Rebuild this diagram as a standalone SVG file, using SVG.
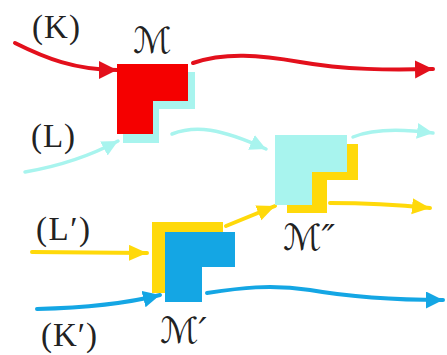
<svg xmlns="http://www.w3.org/2000/svg" width="447" height="355" viewBox="0 0 447 355">
<style>
.lbl{font-family:"Liberation Serif","Times New Roman",serif;font-size:33px;fill:#222}
.cal{font-family:"DejaVu Serif","DejaVu Sans",serif;font-style:italic;font-size:36px;fill:#222}
.c{fill:none;stroke-linecap:round}
.red{stroke:#e3101c;stroke-width:4}
.cy{stroke:#a8f4ee;stroke-width:3.5}
.ye{stroke:#ffd90a;stroke-width:4}
.bl{stroke:#14a6e4;stroke-width:4}
</style>
<defs>
<marker id="aR" markerUnits="userSpaceOnUse" markerWidth="20" markerHeight="20" refX="18" refY="9" orient="auto"><path d="M0,0 L18,9 L0,18 z" fill="#e3101c"/></marker>
<marker id="aC" markerUnits="userSpaceOnUse" markerWidth="20" markerHeight="20" refX="16" refY="8" orient="auto"><path d="M0,0 L16,8 L0,16 z" fill="#a8f4ee"/></marker>
<marker id="aY" markerUnits="userSpaceOnUse" markerWidth="20" markerHeight="20" refX="18" refY="8" orient="auto"><path d="M0,0 L18,8 L0,16 z" fill="#ffd90a"/></marker>
<marker id="aB" markerUnits="userSpaceOnUse" markerWidth="20" markerHeight="20" refX="17" refY="8.5" orient="auto"><path d="M0,0 L17,8.5 L0,17 z" fill="#14a6e4"/></marker>
</defs>
<rect width="447" height="355" fill="#fff"/>
<g id="connectors">
<path class="c cy" d="M25,172 C60,166 90,156 118,141" marker-end="url(#aC)"/>
<path class="c cy" d="M172,134 C195,125 220,128 266,149" marker-end="url(#aC)"/>
<path class="c cy" d="M353,137 C370,130 395,128 433,133" marker-end="url(#aC)"/>
<path class="c red" d="M15,43 C45,58 75,70 117,70" marker-end="url(#aR)"/>
<path class="c red" d="M193,63 C225,52 260,55 300,62 C345,70 390,70 433,69" marker-end="url(#aR)"/>
<path class="c ye" d="M32,252 L147,253" marker-end="url(#aY)"/>
<path class="c ye" d="M226,226 L275,206" marker-end="url(#aY)"/>
<path class="c ye" d="M330,203 C370,203 400,205 430,208" marker-end="url(#aY)"/>
<path class="c bl" d="M37,309 C80,308 120,305 160,295" marker-end="url(#aB)"/>
<path class="c bl" d="M207,293 C240,288 270,284 310,290 C350,297 390,300 443,300" marker-end="url(#aB)"/>
<text class="lbl" x="32" y="38" textLength="48">(K)</text>
<text class="lbl" x="31" y="147" textLength="44">(L)</text>
<text class="lbl" x="36" y="240" textLength="54">(L′)</text>
<text class="lbl" x="41" y="346" textLength="56">(K′)</text>
</g>
<g id="node-M">
<polygon points="123,72 195,72 195,109 159,109 159,143 123,143" fill="#a8f4ee"/>
<polygon points="117,64 188,64 188,101 153,101 153,134 117,134" fill="#f50000"/>
<text class="cal" x="133" y="53" textLength="37">ℳ</text>
</g>
<g id="node-M2">
<polygon points="287,144 358,144 358,180 327,180 327,213 287,213" fill="#ffd90a"/>
<polygon points="275,135 347,135 347,172 312,172 312,205 275,205" fill="#a8f4ee"/>
<text class="cal" x="283" y="250">ℳ″</text>
</g>
<g id="node-M1">
<polygon points="152,222 223,222 223,257 189,257 189,293 152,293" fill="#ffd90a"/>
<polygon points="165,232 235,232 235,267 202,267 202,302 165,302" fill="#14a6e4"/>
<text class="cal" x="160" y="343">ℳ′</text>
</g>
</svg>
